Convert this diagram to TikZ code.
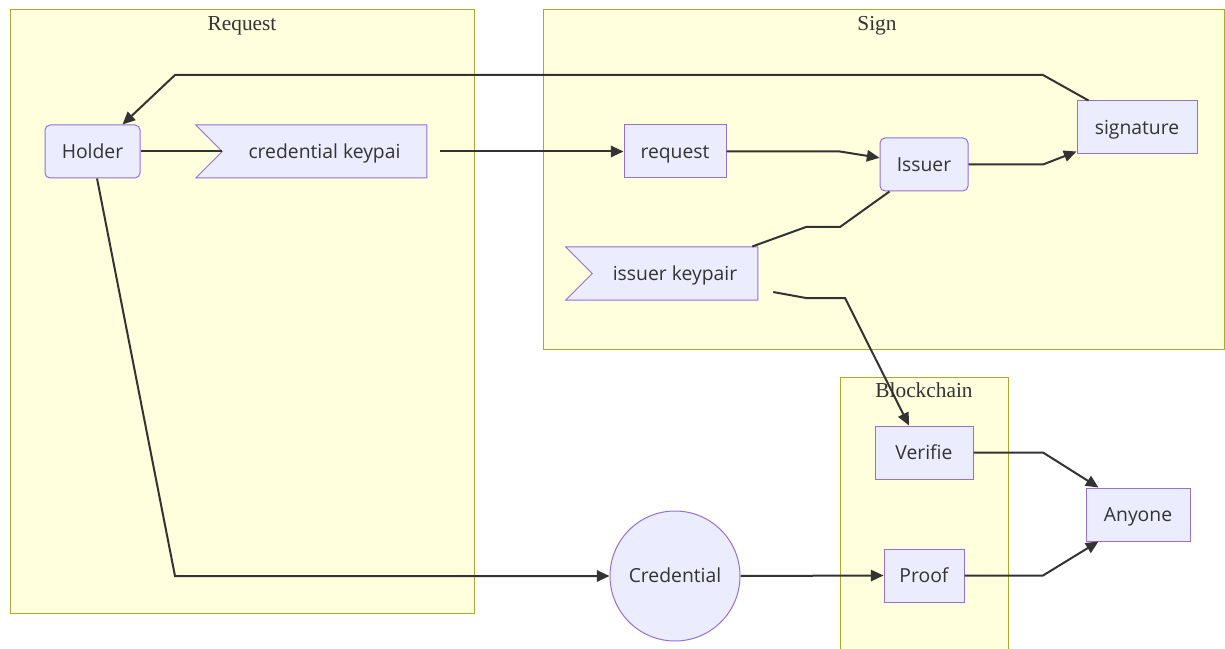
\documentclass[tikz,border=0pt]{standalone}
\usepackage{fontspec}
\setmainfont{Liberation Serif}
\newfontfamily\boxfont{Open Sans}
\usetikzlibrary{arrows.meta,shapes.symbols}

\definecolor{boxfill}{HTML}{ECECFF}
\definecolor{boxline}{HTML}{9370DB}
\definecolor{clusterfill}{HTML}{FFFFDE}
\definecolor{clusterline}{HTML}{AAAA33}
\definecolor{edgeline}{HTML}{333333}

\tikzset{
  cluster/.style={draw=clusterline, fill=clusterfill, line width=0.75pt},
  clusterlabel/.style={anchor=base, text=edgeline, font=\fontsize{16}{18}\selectfont},
  box/.style={draw=boxline, fill=boxfill, line width=0.75pt, inner sep=0pt, text=edgeline,
    minimum height=39.75pt, text height=13pt, text depth=2.6pt,
    font=\boxfont\fontsize{14.5}{17}\selectfont},
  roundbox/.style={box, rounded corners=3.75pt},
  flagbox/.style={box, signal, signal from=west, signal to=nowhere, signal pointer angle=90},
  arrowline/.style={draw=edgeline, line width=1.5pt, -{Triangle[length=9.5pt,width=8.5pt]}},
  plainline/.style={draw=edgeline, line width=1.5pt},
}

\begin{document}
\begin{tikzpicture}[x=0.75pt, y=-0.75pt]
  \useasboundingbox (0,0) rectangle (1225,649);

  % clusters
  \draw[cluster] (10,10) rectangle (474,613);
  \node[clusterlabel] (requestlabel) at (242,31) {Request};
  \draw[cluster] (543,10) rectangle (1224.5,349);
  \node[clusterlabel] (signlabel) at (877,31) {Sign};
  \path[cluster] (840,649) -- (840,377) -- (1008,377) -- (1008,649);
  \node[clusterlabel] (blocklabel) at (924,397) {Blockchain};

  % nodes
  \node[roundbox, minimum width=71.25pt] (holder) at (92.5,151.5) {Holder};
  \node[flagbox, minimum width=173.25pt] (credkey) at (324.5,151.5) {credential keypai};
  \node[box, minimum width=76.5pt] (request) at (675,151.5) {request};
  \node[roundbox, minimum width=66pt] (issuer) at (924,164.5) {Issuer};
  \node[box, minimum width=90pt] (signature) at (1137,127.5) {signature};
  \node[flagbox, minimum width=144pt] (issuerkey) at (675,273.5) {issuer keypair};
  \node[box, minimum width=73.5pt] (verifier) at (924,452.5) {Verifie};
  \node[box, minimum width=60pt] (proof) at (924,575.5) {Proof};
  \node[box, minimum width=78pt] (anyone) at (1138,514.5) {Anyone};
  \node[box, circle, minimum size=97.5pt] (credential) at (675,576) {Credential};

  % connectors
  \draw[arrowline] ([xshift=9pt]signature.north west) -- (1043,75) -- (175,75)
    -- ([xshift=-13.5pt]holder.north east);
  \draw[plainline] (holder.east) -- (credkey.west);
  \draw[arrowline] ([xshift=9.75pt]credkey.east) -- (request.west);
  \draw[arrowline] (request.east) -- (840,151.5) -- ([yshift=5pt]issuer.west);
  \draw[plainline] ([xshift=-4.5pt]issuerkey.north east) -- (806,227) -- (840,227)
    -- ([xshift=7.5pt]issuer.south west);
  \draw[arrowline] (issuer.east) -- (1043,164.5) -- ([yshift=2.25pt]signature.south west);
  \draw[arrowline] ([xshift=11.25pt,yshift=-13.9pt]issuerkey.east) -- (806,298) -- (845,298)
    -- ([xshift=-11.25pt]verifier.north);
  \draw[arrowline] ([xshift=3.4pt]holder.south) -- (175,576) -- (credential.west);
  \draw[arrowline] (credential.east) -- (proof.west);
  \draw[arrowline] (verifier.east) -- (1043,452.5) -- ([xshift=9.75pt]anyone.north west);
  \draw[arrowline] (proof.east) -- (1043,575.5) -- ([xshift=9.75pt]anyone.south west);
\end{tikzpicture}
\end{document}
